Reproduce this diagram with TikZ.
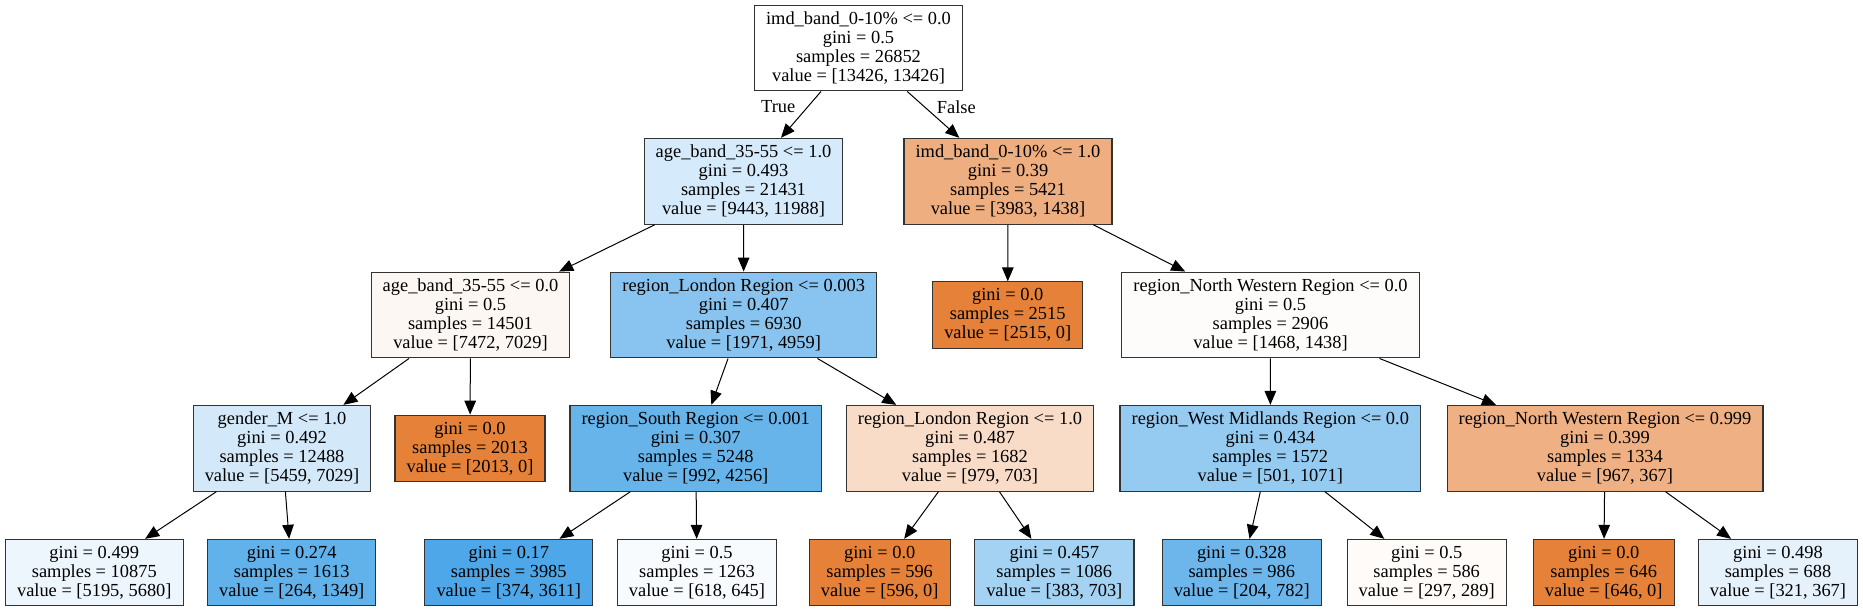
\documentclass[tikz,border=0pt]{standalone}
\usepackage{fontspec}
\setmainfont{Liberation Serif}
\usepackage{xcolor}
\usepackage{tikz}
\usetikzlibrary{arrows.meta,positioning}

\definecolor{clsOrange}{RGB}{229,129,57}
\definecolor{clsBlue}{RGB}{57,157,229}

\begin{document}
\begin{tikzpicture}[x=0.5pt, y=-0.5pt,
    block/.style={rectangle, draw=black!80, line width=0.55pt, align=center, inner xsep=5.8pt, inner ysep=3.3pt,
        font=\fontsize{9.2}{9.5}\selectfont},
    arrow/.style={line width=0.5pt, -{Triangle[length=7pt, width=5.8pt]}},
    lbl/.style={font=\fontsize{9.2}{9.5}\selectfont, inner sep=1pt}]

    \useasboundingbox (0,0) rectangle (1863,611);

    % splits
    \node[block, fill=white] (root) at (858.5,48) {imd\_band\_0-10\% <= 0.0\\gini = 0.5\\samples = 26852\\value = [13426, 13426]};
    \node[block, fill=clsBlue!21] (age1) at (743.5,181.3) {age\_band\_35-55 <= 1.0\\gini = 0.493\\samples = 21431\\value = [9443, 11988]};
    \node[block, fill=clsOrange!64] (imd1) at (1008,181.3) {imd\_band\_0-10\% <= 1.0\\gini = 0.39\\samples = 5421\\value = [3983, 1438]};
    \node[block, fill=clsOrange!6] (age0) at (470.5,315) {age\_band\_35-55 <= 0.0\\gini = 0.5\\samples = 14501\\value = [7472, 7029]};
    \node[block, fill=clsBlue!60] (lonA) at (743.7,315) {region\_London Region <= 0.003\\gini = 0.407\\samples = 6930\\value = [1971, 4959]};
    \node[block, fill=clsOrange] (pureA) at (1007.7,315) {gini = 0.0\\samples = 2515\\value = [2515, 0]};
    \node[block, fill=clsOrange!2] (nwA) at (1270.5,315) {region\_North Western Region <= 0.0\\gini = 0.5\\samples = 2906\\value = [1468, 1438]};
    \node[block, fill=clsBlue!22] (gender) at (282,448.3) {gender\_M <= 1.0\\gini = 0.492\\samples = 12488\\value = [5459, 7029]};
    \node[block, fill=clsOrange] (pureB) at (470,448.3) {gini = 0.0\\samples = 2013\\value = [2013, 0]};
    \node[block, fill=clsBlue!77] (south) at (695.7,448.3) {region\_South Region <= 0.001\\gini = 0.307\\samples = 5248\\value = [992, 4256]};
    \node[block, fill=clsOrange!28] (lonB) at (970,448.3) {region\_London Region <= 1.0\\gini = 0.487\\samples = 1682\\value = [979, 703]};
    \node[block, fill=clsBlue!53] (wmid) at (1270.3,448.3) {region\_West Midlands Region <= 0.0\\gini = 0.434\\samples = 1572\\value = [501, 1071]};
    \node[block, fill=clsOrange!62] (nwB) at (1605,448.3) {region\_North Western Region <= 0.999\\gini = 0.399\\samples = 1334\\value = [967, 367]};

    % leaves
    \node[block, fill=clsBlue!9] (leafA) at (94.3,572.5) {gini = 0.499\\samples = 10875\\value = [5195, 5680]};
    \node[block, fill=clsBlue!80] (leafB) at (291.7,572.5) {gini = 0.274\\samples = 1613\\value = [264, 1349]};
    \node[block, fill=clsBlue!90] (leafC) at (508.8,572.5) {gini = 0.17\\samples = 3985\\value = [374, 3611]};
    \node[block, fill=clsBlue!4] (leafD) at (697,572.5) {gini = 0.5\\samples = 1263\\value = [618, 645]};
    \node[block, fill=clsOrange] (leafE) at (879.7,572.5) {gini = 0.0\\samples = 596\\value = [596, 0]};
    \node[block, fill=clsBlue!46] (leafF) at (1054.3,572.5) {gini = 0.457\\samples = 1086\\value = [383, 703]};
    \node[block, fill=clsBlue!74] (leafG) at (1241.8,572.5) {gini = 0.328\\samples = 986\\value = [204, 782]};
    \node[block, fill=clsOrange!3] (leafH) at (1426.7,572.5) {gini = 0.5\\samples = 586\\value = [297, 289]};
    \node[block, fill=clsOrange] (leafI) at (1603.7,572.5) {gini = 0.0\\samples = 646\\value = [646, 0]};
    \node[block, fill=clsBlue!13] (leafJ) at (1778,572.5) {gini = 0.498\\samples = 688\\value = [321, 367]};

    % edges
    \draw[arrow] (root) -- (age1) node[lbl, pos=0.33, left=5pt] {True};
    \draw[arrow] (root) -- (imd1) node[lbl, pos=0.33, right=5pt] {False};
    \draw[arrow] (age1) -- (age0);
    \draw[arrow] (age1) -- (lonA);
    \draw[arrow] (imd1) -- (pureA);
    \draw[arrow] (imd1) -- (nwA);
    \draw[arrow] (age0) -- (gender);
    \draw[arrow] (age0) -- (pureB);
    \draw[arrow] (lonA) -- (south);
    \draw[arrow] (lonA) -- (lonB);
    \draw[arrow] (nwA) -- (wmid);
    \draw[arrow] (nwA) -- (nwB);
    \draw[arrow] (gender) -- (leafA);
    \draw[arrow] (gender) -- (leafB);
    \draw[arrow] (south) -- (leafC);
    \draw[arrow] (south) -- (leafD);
    \draw[arrow] (lonB) -- (leafE);
    \draw[arrow] (lonB) -- (leafF);
    \draw[arrow] (wmid) -- (leafG);
    \draw[arrow] (wmid) -- (leafH);
    \draw[arrow] (nwB) -- (leafI);
    \draw[arrow] (nwB) -- (leafJ);

\end{tikzpicture}
\end{document}
